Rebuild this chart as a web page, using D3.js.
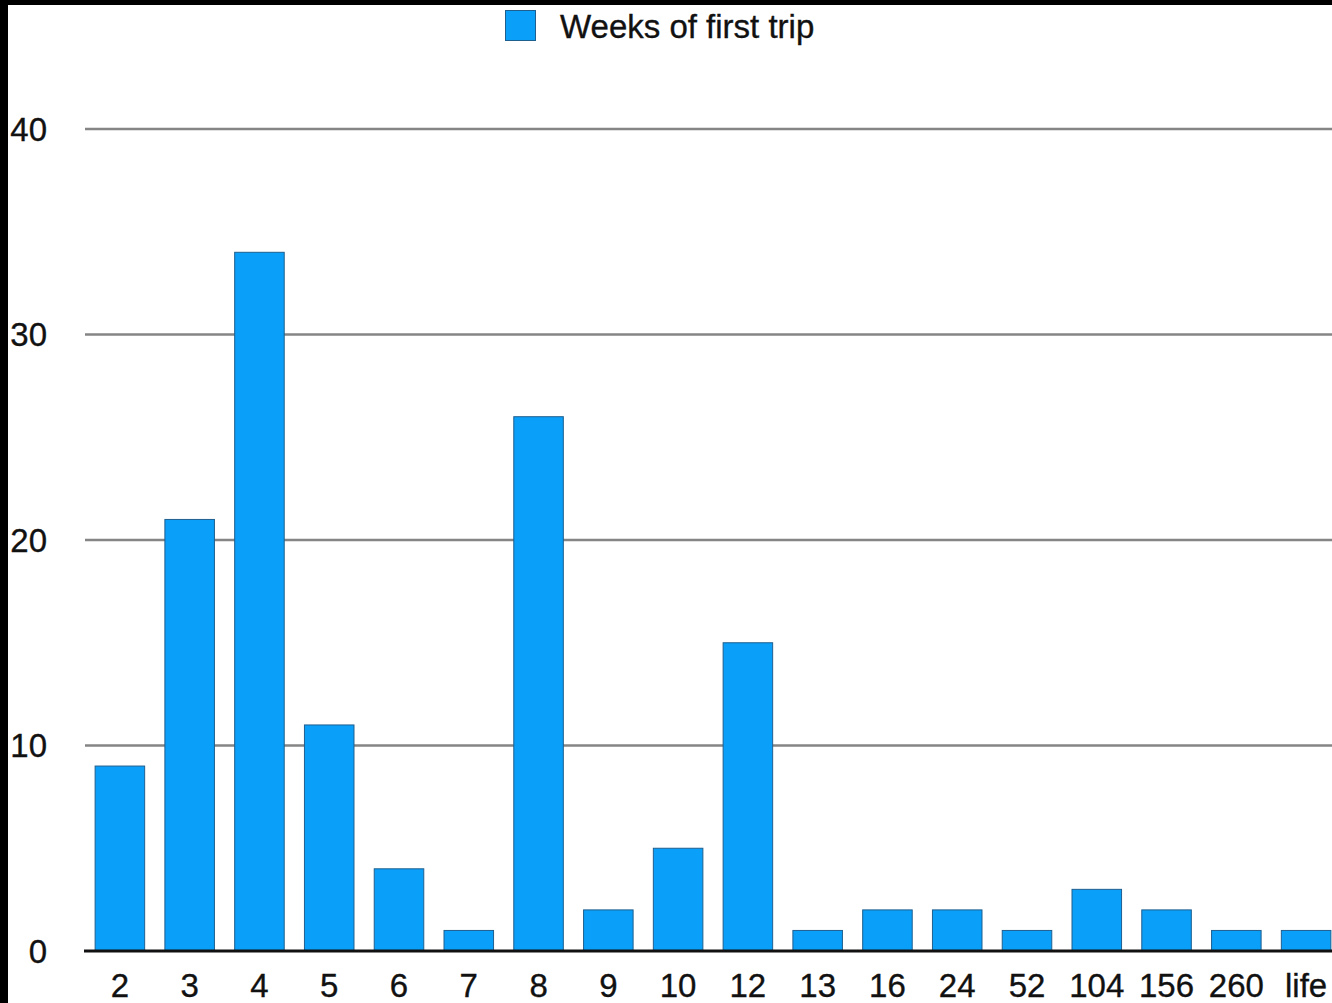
<!DOCTYPE html>
<html>
<head>
<meta charset="utf-8">
<script src="https://cdn.jsdelivr.net/npm/d3@7"></script>
<style>
  html, body { margin: 0; padding: 0; background: #000; }
  svg { display: block; }
  text { font-family: "Liberation Sans", Arial, Helvetica, sans-serif; fill: #111; stroke: #111; stroke-width: 0.35px; }
</style>
</head>
<body>
<svg id="chart" width="1332" height="1003"></svg>
<script>
// Duration categories (weeks) and counts
const categories = ["2", "3", "4", "5", "6", "7", "8", "9", "10", "12", "13", "16", "24", "52", "104", "156", "260", "life"];
const counts = [9, 21, 34, 11, 4, 1, 26, 2, 5, 15, 1, 2, 2, 1, 3, 2, 1, 1];
const yTicks = [0, 10, 20, 30, 40];
const seriesName = "Weeks of first trip";

const W = 1332, H = 1003;
const svg = d3.select("#chart");

// white canvas with a dark frame on the top and left edges
svg.append("rect").attr("x", 0).attr("y", 0).attr("width", W).attr("height", H).attr("fill", "#000");
svg.append("rect").attr("x", 8).attr("y", 5).attr("width", W - 8).attr("height", H - 5).attr("fill", "#fff");

const x = d3.scaleBand()
  .domain(categories)
  .range([85, 1341])
  .paddingInner(0.29)
  .paddingOuter(0.145);

const y = d3.scaleLinear().domain([0, 40]).range([951, 129]);

// horizontal gridlines
const grid = svg.append("g");
grid.selectAll("line")
  .data(yTicks.filter(t => t > 0))
  .join("line")
  .attr("x1", 85).attr("x2", W)
  .attr("y1", d => y(d)).attr("y2", d => y(d))
  .attr("stroke", "#858585")
  .attr("stroke-width", 2.6);

// y tick labels
svg.append("g").selectAll("text")
  .data(yTicks)
  .join("text")
  .attr("x", 47)
  .attr("y", d => y(d))
  .attr("dy", "0.36em")
  .attr("text-anchor", "end")
  .attr("font-size", 33)
  .text(d => d);

// bars
svg.append("g").selectAll("rect")
  .data(categories.map((c, i) => ({ c, v: counts[i] })))
  .join("rect")
  .attr("x", d => x(d.c))
  .attr("width", x.bandwidth())
  .attr("y", d => y(d.v))
  .attr("height", d => y(0) - y(d.v))
  .attr("fill", "#0a9ff8")
  .attr("stroke", "#1f5f8f")
  .attr("stroke-width", 1);

// baseline
svg.append("line")
  .attr("x1", 84).attr("x2", W)
  .attr("y1", y(0)).attr("y2", y(0))
  .attr("stroke", "#111")
  .attr("stroke-width", 3);

// x tick labels
svg.append("g").selectAll("text")
  .data(categories)
  .join("text")
  .attr("x", d => x(d) + x.bandwidth() / 2)
  .attr("y", 997)
  .attr("text-anchor", "middle")
  .attr("font-size", 33)
  .text(d => d);

// legend
const legend = svg.append("g");
legend.append("rect")
  .attr("x", 505.5).attr("y", 10.5)
  .attr("width", 30).attr("height", 30)
  .attr("fill", "#0a9ff8")
  .attr("stroke", "#1f5f8f")
  .attr("stroke-width", 1);
legend.append("text")
  .attr("x", 560)
  .attr("y", 38)
  .attr("font-size", 33)
  .text(seriesName);
</script>
</body>
</html>
